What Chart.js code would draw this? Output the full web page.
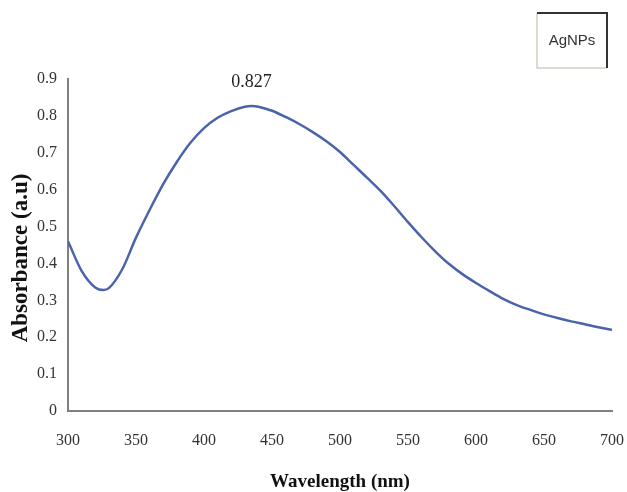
<!DOCTYPE html>
<html>
<head>
<meta charset="utf-8">
<script src="https://cdn.jsdelivr.net/npm/chart.js@4/dist/chart.umd.min.js"></script>
<style>
  html, body { margin: 0; padding: 0; background: #fff; }
  #wrap { width: 627px; height: 492px; position: relative; }
</style>
</head>
<body>
<div id="wrap"><canvas id="uvChart"></canvas></div>
<script>
// wavelength (nm) and absorbance
const wavelengths = [300, 310, 320, 326, 330, 340, 350, 360, 370, 380, 390, 400, 410, 420, 430, 435, 440,
  450, 460, 470, 480, 490, 500, 510, 520, 530, 540, 550, 560, 570, 580, 590, 600,
  610, 620, 630, 640, 650, 660, 670, 680, 690, 700];
const absorbance = [0.46, 0.38, 0.335, 0.328, 0.333, 0.385, 0.47, 0.545, 0.615, 0.675, 0.727, 0.767, 0.795, 0.813, 0.825, 0.827, 0.825,
  0.814, 0.797, 0.778, 0.756, 0.731, 0.702, 0.667, 0.632, 0.596, 0.555, 0.512, 0.471, 0.433, 0.399, 0.371, 0.347,
  0.325, 0.304, 0.287, 0.274, 0.262, 0.252, 0.243, 0.235, 0.227, 0.22];
const xTicks = [300, 350, 400, 450, 500, 550, 600, 650, 700];
const yTicks = [0, 0.1, 0.2, 0.3, 0.4, 0.5, 0.6, 0.7, 0.8, 0.9];
const peakLabel = "0.827";
const legendText = "AgNPs";
const xTitle = "Wavelength (nm)";
const yTitle = "Absorbance (a.u)";

const points = wavelengths.map((w, i) => ({ x: w, y: absorbance[i] }));

// keep label overhang from shrinking the plot area
function noOverhang(scale) {
  scale.paddingLeft = 0;
  scale.paddingRight = 0;
  scale.paddingTop = 0;
  scale.paddingBottom = 0;
}

// axis titles, peak value label, boxed legend
const annotations = {
  id: "annotations",
  afterDatasetsDraw(chart) {
    const c = chart.ctx;
    const xs = chart.scales.x, ys = chart.scales.y;
    let top = 0;
    absorbance.forEach((v, i) => { if (v > absorbance[top]) top = i; });
    c.save();
    c.fillStyle = "#222";
    c.font = "18px 'Liberation Serif'";
    c.textAlign = "center";
    c.textBaseline = "middle";
    c.fillText(peakLabel, xs.getPixelForValue(wavelengths[top]), ys.getPixelForValue(absorbance[top]) - 24);

    // axis titles
    c.fillStyle = "#111";
    c.textBaseline = "alphabetic";
    c.font = "bold 19px 'Liberation Serif'";
    c.fillText(xTitle, (xs.left + xs.right) / 2, 487);
    c.save();
    c.translate(27, 258);
    c.rotate(-Math.PI / 2);
    c.font = "bold 23px 'Liberation Serif'";
    c.fillText(yTitle, 0, 0);
    c.restore();

    // legend box
    const bx = 537, by = 13, bw = 70, bh = 55;
    c.fillStyle = "#fff";
    c.fillRect(bx, by, bw, bh);
    c.strokeStyle = "#c9d3c2";
    c.lineWidth = 1.5;
    c.beginPath();
    c.moveTo(bx, by); c.lineTo(bx, by + bh); c.lineTo(bx + bw, by + bh);
    c.stroke();
    c.strokeStyle = "#333";
    c.lineWidth = 2;
    c.beginPath();
    c.moveTo(bx, by); c.lineTo(bx + bw, by); c.lineTo(bx + bw, by + bh);
    c.stroke();
    c.fillStyle = "#333";
    c.textBaseline = "middle";
    c.font = "15px 'Liberation Sans'";
    c.fillText(legendText, bx + bw / 2, by + 28);
    c.restore();
  }
};

new Chart(document.getElementById("uvChart"), {
  type: "line",
  data: {
    datasets: [{
      label: legendText,
      data: points,
      borderColor: "#4a63aa",
      borderWidth: 2.5,
      pointRadius: 0,
      fill: false,
      cubicInterpolationMode: "monotone"
    }]
  },
  options: {
    responsive: true,
    maintainAspectRatio: false,
    animation: false,
    layout: { padding: { left: 0, top: 79, right: 15, bottom: 0 } },
    plugins: {
      legend: { display: false },
      tooltip: { enabled: false }
    },
    scales: {
      x: {
        type: "linear",
        min: 300,
        max: 700,
        afterFit(scale) { scale.height = 81; noOverhang(scale); },
        afterBuildTicks(scale) { scale.ticks = xTicks.map(v => ({ value: v })); },
        grid: { display: false, drawTicks: false },
        border: { color: "#808080", width: 2 },
        ticks: {
          padding: 20,
          color: "#333",
          font: { family: "Liberation Serif", size: 16 },
          maxRotation: 0
        }
      },
      y: {
        min: 0,
        max: 0.9,
        afterFit(scale) { scale.width = 68; noOverhang(scale); },
        afterBuildTicks(scale) { scale.ticks = yTicks.map(v => ({ value: v })); },
        grid: { display: false, drawTicks: false },
        border: { color: "#808080", width: 2 },
        ticks: {
          padding: 11,
          color: "#333",
          font: { family: "Liberation Serif", size: 16 },
          callback: v => String(Math.round(v * 10) / 10)
        }
      }
    }
  },
  plugins: [annotations]
});
</script>
</body>
</html>
